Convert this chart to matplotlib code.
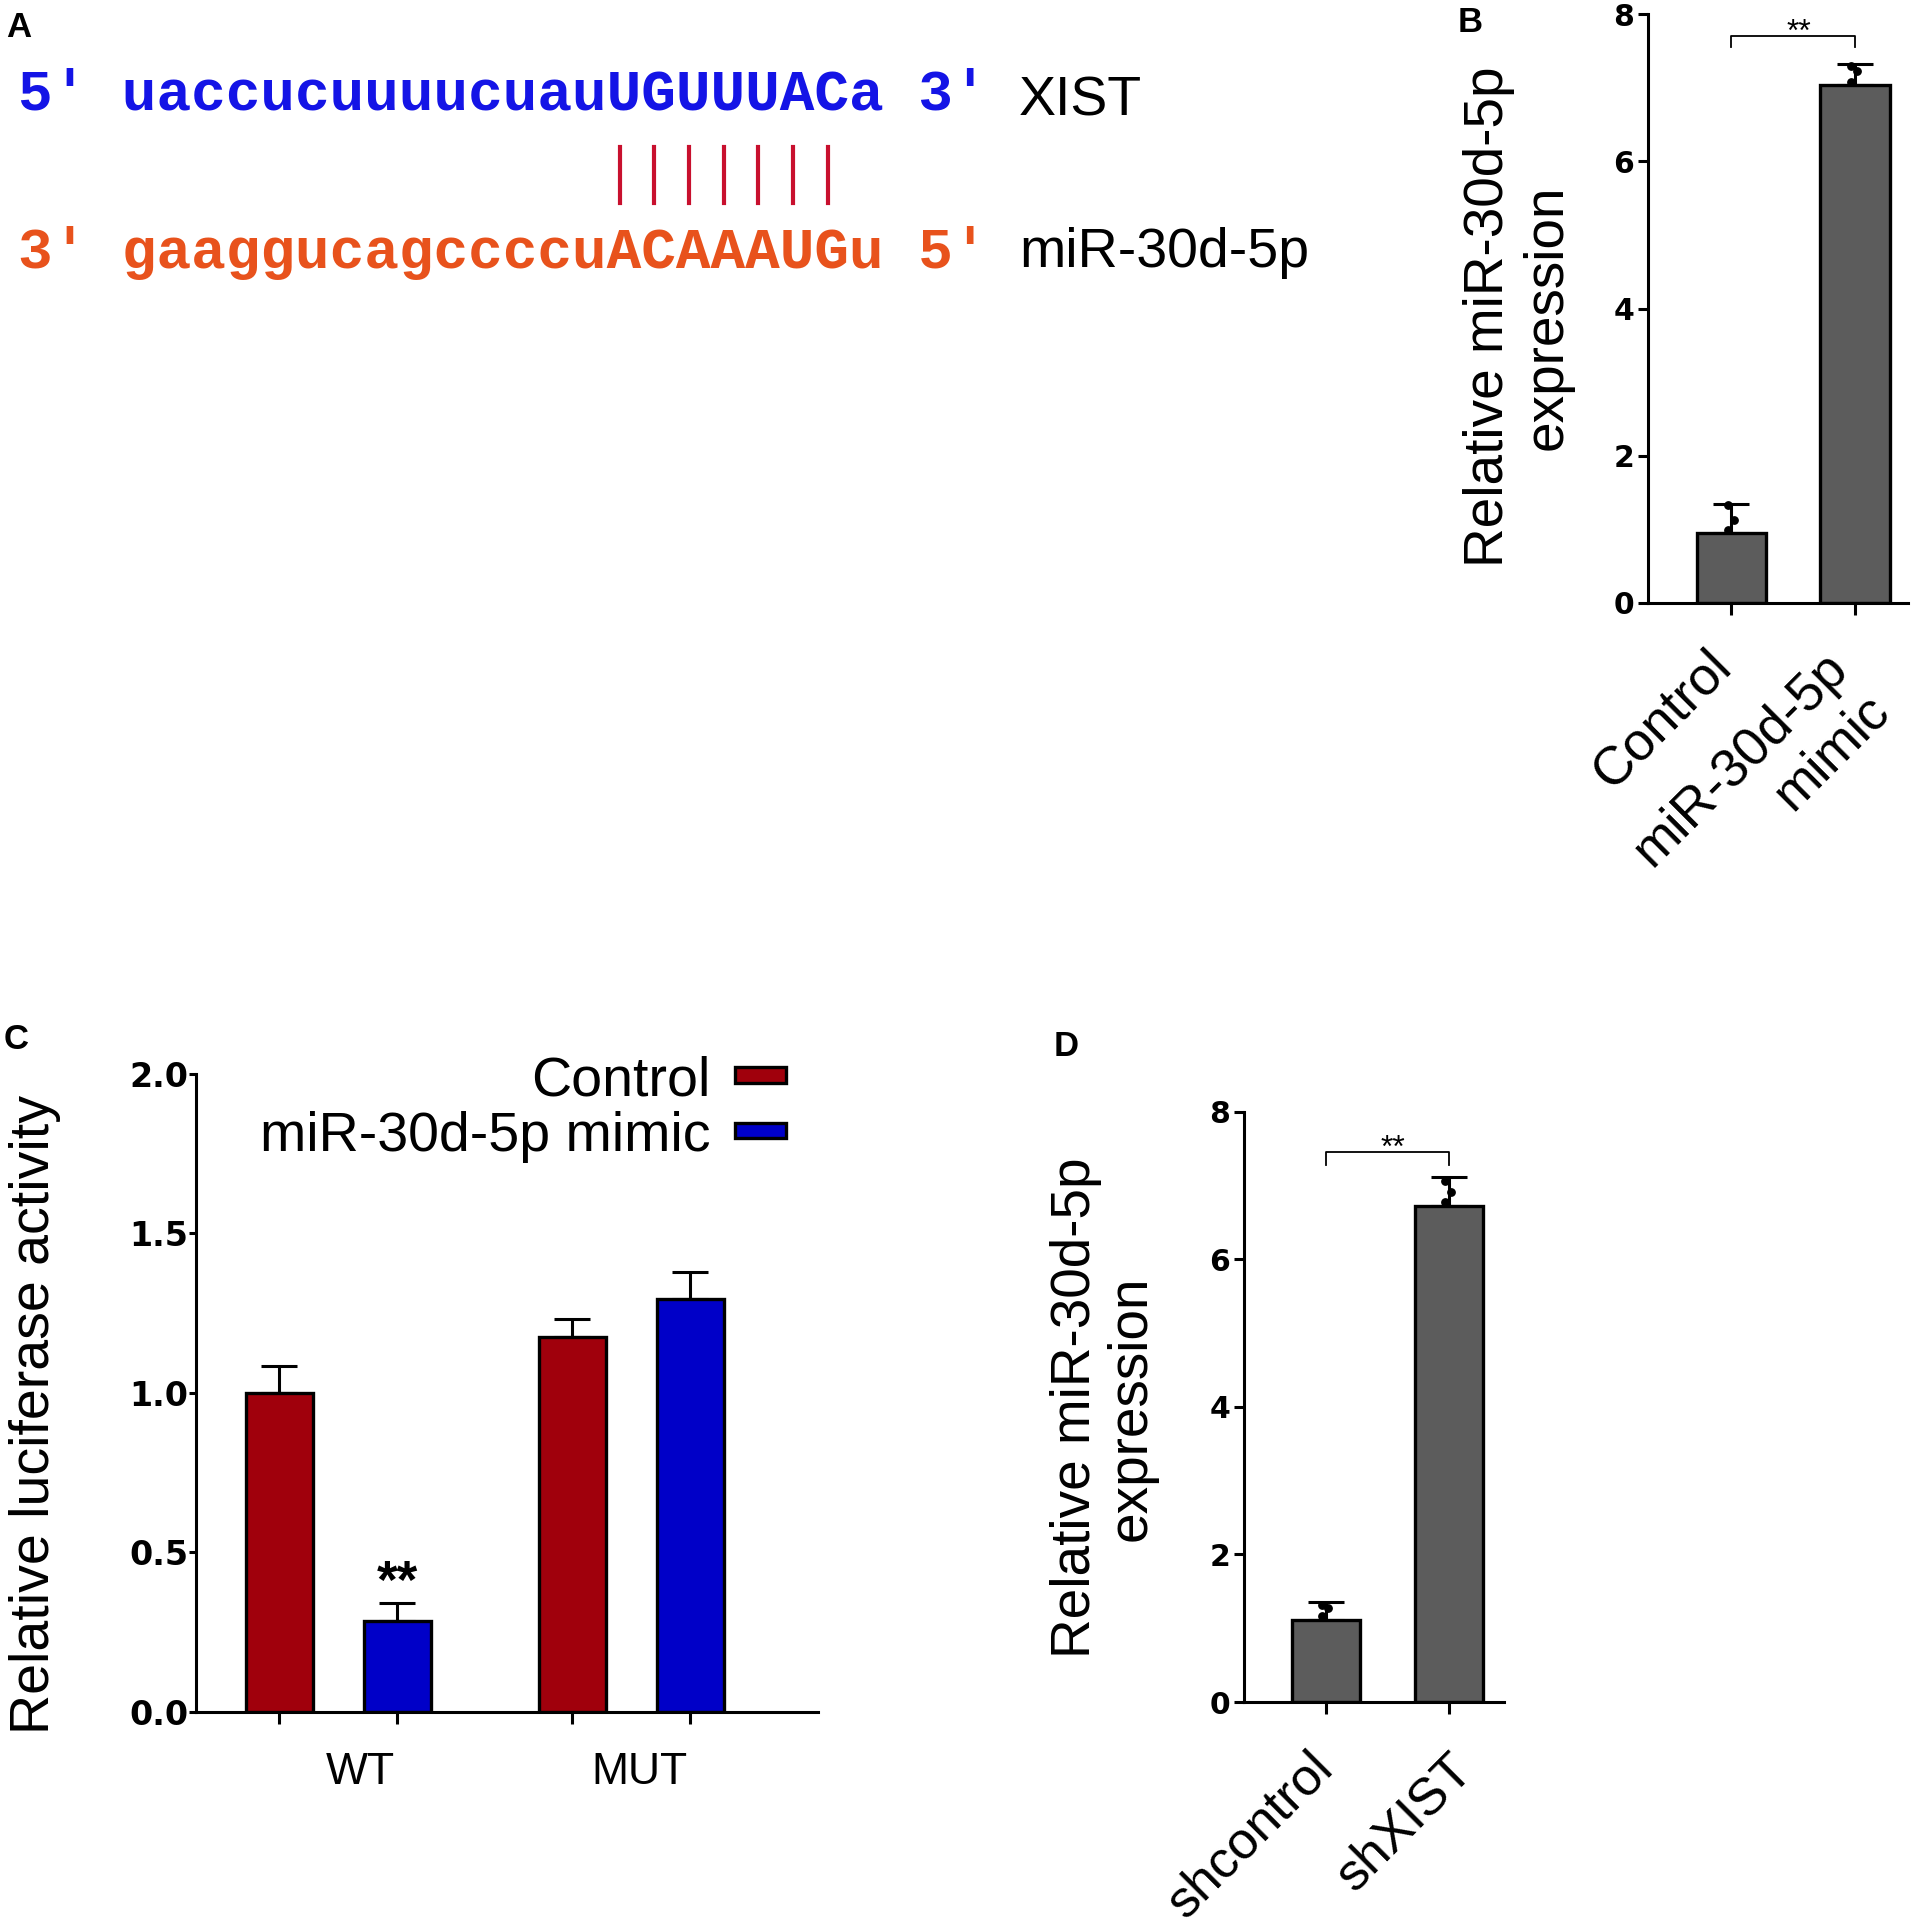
import matplotlib
matplotlib.use('Agg')
import matplotlib.pyplot as plt
from matplotlib.lines import Line2D
from matplotlib.transforms import ScaledTranslation
import numpy as np

W, H = 1922, 1928
plt.rcParams['font.family'] = ['Liberation Sans', 'DejaVu Sans']

# panel A: binding site
xist_seq = "uaccucuuuucuauUGUUUACa"
mir_seq = "gaaggucagccccuACAAAUGu"
pair_start = 14
pair_len = 7

# panel B
b_labels = ['Control', 'miR-30d-5p\nmimic']
b_means = [0.95, 7.04]
b_sd = [0.40, 0.28]
b_points = [[1.33, 1.13, 0.99], [7.29, 7.22, 7.07]]

# panel C
c_groups = ['WT', 'MUT']
c_series = ['Control', 'miR-30d-5p mimic']
c_control = [1.00, 1.175]
c_control_sd = [0.085, 0.057]
c_mimic = [0.285, 1.295]
c_mimic_sd = [0.058, 0.082]

# panel D
d_labels = ['shcontrol', 'shXIST']
d_means = [1.11, 6.72]
d_sd = [0.25, 0.39]
d_points = [[1.31, 1.27, 1.16], [7.06, 6.91, 6.78]]

GRAY = '#5c5c5c'
RED = '#a0000c'
BLUE = '#0000c8'
jitter = [-0.03, 0.02, -0.03]


def fx(px):
    return px / W


def fy(py):
    return 1 - py / H


def box(l, t, r, b):
    return [fx(l), fy(b), (r - l) / W, (b - t) / H]


def style_axes(ax):
    ax.spines['top'].set_visible(False)
    ax.spines['right'].set_visible(False)
    ax.spines['left'].set_linewidth(2.2)
    ax.spines['bottom'].set_linewidth(2.2)
    ax.tick_params(axis='y', width=2.2, length=7, pad=3)
    ax.tick_params(axis='x', width=2.2, length=8.5)


def expr_panel(ax, labels, means, sd, points, bw, xlim, br, shifts, fs):
    x = np.arange(len(means))
    ax.errorbar(x, means, yerr=[np.zeros(len(sd)), sd], fmt='none', ecolor='black',
                elinewidth=2.2, capsize=13, capthick=2.2, zorder=1)
    ax.bar(x, means, width=bw, color=GRAY, edgecolor='black', linewidth=2.4, zorder=2)
    for i, pts in enumerate(points):
        ax.scatter(np.array(jitter) + i, pts, s=28, color='black', zorder=3)
    ax.set_xlim(*xlim)
    ax.set_ylim(0, 8)
    style_axes(ax)
    ax.set_yticks([0, 2, 4, 6, 8])
    ax.set_yticklabels(['0', '2', '4', '6', '8'], fontsize=21.5, fontweight='bold', family='DejaVu Sans')
    ax.set_xticks(x)
    ax.tick_params(axis='x', pad=40)
    ax.set_xticklabels(labels, fontsize=fs, rotation=45, ha='right', va='center',
                       rotation_mode='anchor', multialignment='right', linespacing=1.25)
    # nudge the rotated labels (pixels: right, down)
    for lab, (sx, sy) in zip(ax.get_xticklabels(), shifts):
        lab.set_transform(lab.get_transform() +
                          ScaledTranslation(sx / 100, -sy / 100, ax.figure.dpi_scale_trans))
    ax.plot([0, 0, 1, 1], [br[0], br[1], br[1], br[0]], color='black', lw=1.3, clip_on=False)
    ax.text(0.545, br[1] - 0.06, '**', ha='center', va='baseline', fontsize=23, clip_on=False)


fig = plt.figure(figsize=(W / 100, H / 100), dpi=100)

# ---- A
mono = dict(family='Liberation Mono', weight='bold', fontsize=41.6)
fig.text(fx(18), fy(110), "5' " + xist_seq + " 3'", color='#1414e6', va='baseline', **mono)
fig.text(fx(18), fy(268), "3' " + mir_seq + " 5'", color='#e8521c', va='baseline', **mono)
fig.text(fx(1019), fy(116), 'XIST', fontsize=40, va='baseline')
fig.text(fx(1019), fy(267), 'miR-30d-5p', fontsize=40, va='baseline')
cw = 41.6 / 72 * 100 * 0.6
for i in range(pair_len):
    xp = 13 + (3 + pair_start + i + 0.5) * cw
    fig.add_artist(Line2D([fx(xp), fx(xp)], [fy(147), fy(203)], color='#c8102e', lw=3))

# ---- B
axB = fig.add_axes(box(1648, 14, 1908, 603))
expr_panel(axB, b_labels, b_means, b_sd, b_points, 0.56, (-0.676, 1.429), (7.55, 7.7),
           [(-8, -12), (5.5, 11)], 38.5)
fig.text(fx(1518), fy(317), 'Relative miR-30d-5p\nexpression', rotation=90, fontsize=39.5,
         ha='center', va='center', linespacing=1.17, multialignment='center')

# ---- D
axD = fig.add_axes(box(1244, 1111.5, 1504, 1702))
expr_panel(axD, d_labels, d_means, d_sd, d_points, 0.553, (-0.667, 1.447), (7.28, 7.45),
           [(-1, -9), (16, -7)], 37.5)
fig.text(fx(1104), fy(1408), 'Relative miR-30d-5p\nexpression', rotation=90, fontsize=39.5,
         ha='center', va='center', linespacing=1.1, multialignment='center')

# ---- C
axC = fig.add_axes(box(196, 1073.6, 818, 1712))
g = np.arange(len(c_groups))
off = 0.2014
bw = 0.229
axC.errorbar(g - off, c_control, yerr=[np.zeros(2), c_control_sd], fmt='none', ecolor='black',
             elinewidth=2.2, capsize=13, capthick=2.2, zorder=1)
axC.errorbar(g + off, c_mimic, yerr=[np.zeros(2), c_mimic_sd], fmt='none', ecolor='black',
             elinewidth=2.2, capsize=13, capthick=2.2, zorder=1)
h1 = axC.bar(g - off, c_control, width=bw, color=RED, edgecolor='black', linewidth=2.4, zorder=2)
h2 = axC.bar(g + off, c_mimic, width=bw, color=BLUE, edgecolor='black', linewidth=2.4, zorder=2)
axC.set_xlim(-0.485, 1.638)
axC.set_ylim(0, 2.0)
style_axes(axC)
axC.tick_params(axis='y', length=5, pad=0.5)
axC.set_yticks([0, 0.5, 1.0, 1.5, 2.0])
axC.set_yticklabels(['0.0', '0.5', '1.0', '1.5', '2.0'], fontsize=24, fontweight='bold', family='DejaVu Sans')
axC.set_xticks(np.concatenate([g - off, g + off]))
axC.set_xticklabels([])
axC.set_xticks(g + np.array([0.077, 0.03]), minor=True)
axC.set_xticklabels(c_groups, minor=True, fontsize=32)
axC.tick_params(axis='x', which='minor', length=0, pad=28.5)
axC.text(g[0] + off, c_mimic[0] + c_mimic_sd[0] + 0.015, '**', ha='center', va='baseline',
         fontsize=38, fontweight='bold')
axC.legend([h1, h2], c_series, loc='upper right', bbox_to_anchor=(fx(786), fy(1055)),
           bbox_transform=fig.transFigure, frameon=False, markerfirst=False, fontsize=40,
           handlelength=0.91, handleheight=0.06, handletextpad=0.44, labelspacing=0.07,
           borderpad=0, borderaxespad=0)
fig.text(fx(35), fy(1415), 'Relative luciferase activity', rotation=90, fontsize=40,
         ha='center', va='center')

# panel letters
for lab, (px, py) in zip('ABCD', [(6, 11), (1458, 6), (4, 1023), (1054, 1030)]):
    fig.text(fx(px), fy(py), lab, fontsize=25, fontweight='bold', va='top', ha='left')

fig.savefig('out.png', dpi=100)
